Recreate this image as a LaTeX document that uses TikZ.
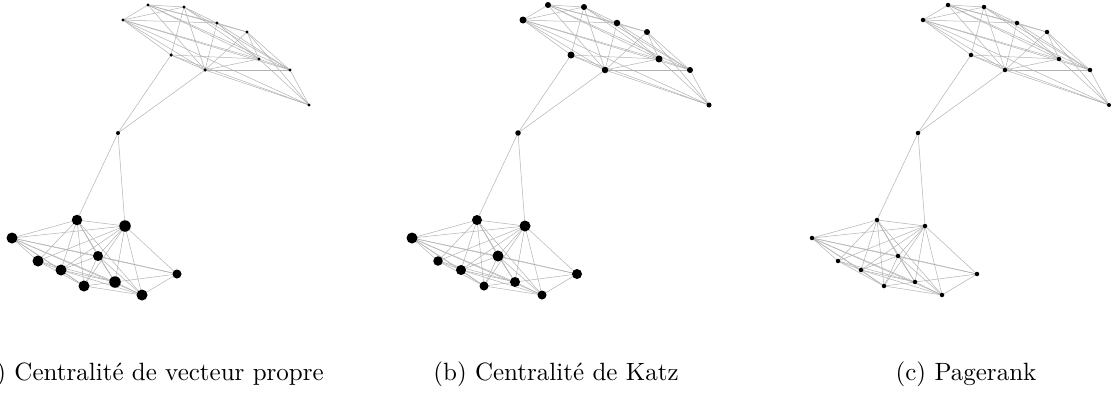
\documentclass[tikz,border=0pt]{standalone}
\usepackage{fontspec}
\usepackage{tikz}
\usetikzlibrary{positioning}

\pgfdeclarelayer{edges}
\pgfsetlayers{edges,main}

% node positions (pixels) of the network, shared by the three panels
\newcommand{\netnodes}{t1/148/5, t2/184/7, t3/123/20, t4/217/23, t5/247/32,
  t6/171/55, t7/259/59, t8/205/70, t9/290/70, t10/309/105, m/118/133,
  b1/77/220, b2/125/226, b3/12/238, b4/98/256, b5/38/261, b6/61/270,
  b7/177/274, b8/115/282, b9/84/286, b10/142/295}
\newcommand{\netedges}{t1/t2, t1/t3, t1/t4, t1/t5, t1/t7, t1/t8, t1/t9,
  t2/t3, t2/t4, t2/t6, t2/t7, t2/t8, t2/t9,
  t3/t4, t3/t6, t3/t7, t3/t8, t3/t9, t3/t10,
  t4/t5, t4/t7, t4/t8, t4/t9,
  t5/t7, t5/t8, t5/t9, t5/t10,
  t6/t7, t6/t8, t6/t10, t7/t8, t7/t9, t7/t10, t8/t9, t8/t10, t9/t10,
  m/t6, m/t8, m/b1, m/b2,
  b1/b2, b1/b3, b1/b4, b1/b5, b1/b6, b1/b8, b1/b9, b1/b10,
  b2/b3, b2/b4, b2/b5, b2/b6, b2/b7, b2/b8, b2/b9, b2/b10,
  b3/b4, b3/b5, b3/b6, b3/b7, b3/b8, b3/b9, b3/b10,
  b4/b6, b4/b7, b4/b8, b4/b9, b4/b10,
  b5/b6, b5/b8, b5/b9, b6/b8, b6/b9, b6/b10,
  b7/b8, b7/b10, b8/b9, b8/b10, b9/b10}

\tikzset{
  vtx/.style={circle, fill=black, inner sep=0pt},
  edge/.style={black!30, line width=0.2pt},
  subcap/.style={anchor=base, font=\normalsize}
}

% #1 prefix, #2 x offset, #3 diameters (pixels) in the order of \netnodes
\newcommand{\drawnet}[3]{%
  \begin{scope}[shift={(#2,0)}]
    \foreach \n/\x/\y [count=\i] in \netnodes {
      \pgfmathsetmacro{\d}{{#3}[\i-1]}
      \node[vtx, minimum size=\d*0.4pt] (#1-\n) at (\x,\y) {};
    }
    \begin{pgfonlayer}{edges}
      \foreach \u/\v in \netedges {
        \draw[edge] (#1-\u.center) -- (#1-\v.center);
      }
    \end{pgfonlayer}
  \end{scope}}

\begin{document}
\begin{tikzpicture}[x=0.4pt, y=-0.4pt]
  \useasboundingbox (0,0) rectangle (1112,393);
  % --- Panel a: eigenvector centrality ---
  \drawnet{a}{0}{3.2,3.2,3.2,3.2,3.2,3.5,3.2,3.5,3.2,3.2,4,
    10.5,11.5,11,10,11,11,9,11.5,11,11}
  % --- Panel b: Katz centrality ---
  \drawnet{b}{400}{6,6,7,6.5,6,7,7,6.5,6,5,5.5,
    10,11,11,11,9.5,10,10,10,9,9}
  % --- Panel c: PageRank ---
  \drawnet{c}{800}{4.5,4.5,4.5,4.5,4.5,4.5,4.5,4.5,4.5,4,4.5,
    4.5,4.5,4.5,4.5,4.5,4.5,4.5,4.5,4.5,4.5}
  \node[subcap] (a-cap) at (149,380) {(a) Centralité de vecteur propre};
  \node[subcap] (b-cap) at (556,380) {(b) Centralité de Katz};
  \node[subcap] (c-cap) at (966,380) {(c) Pagerank};
\end{tikzpicture}
\end{document}
